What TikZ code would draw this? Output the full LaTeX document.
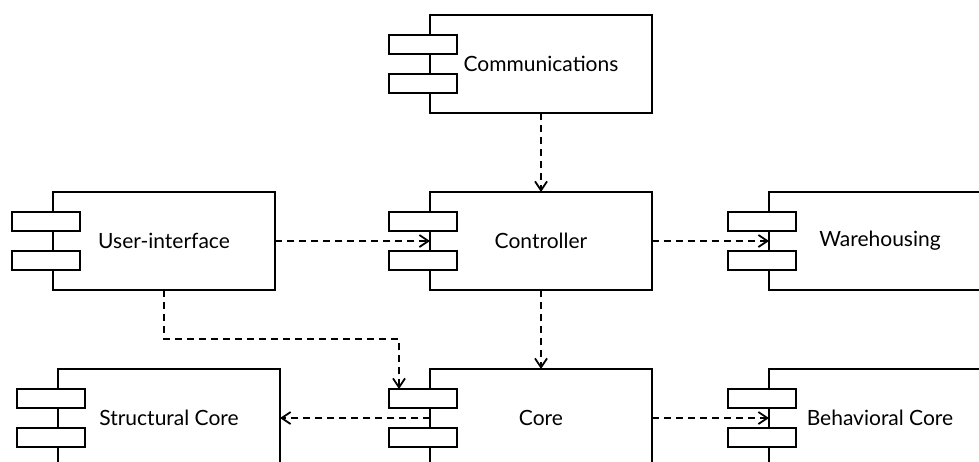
\documentclass[tikz,border=0pt]{standalone}
\usepackage{fontspec}
\setmainfont{Lato}
\usetikzlibrary{arrows.meta,calc}
\tikzset{
  comp/.style={draw, line width=2pt, minimum width=222pt, minimum height=98pt, inner sep=0pt, outer sep=0pt, font=\fontsize{21}{25}\selectfont},
  portbox/.style={draw, fill=white, line width=2pt},
  dep/.style={draw, line width=1.8pt, dash pattern=on 7pt off 5pt, -{Straight Barb[length=9pt,width=12pt,line width=1.8pt]}},
}
\newcommand{\ports}[1]{%
  \path[portbox] ($(#1.north west)+(-41,20)$) rectangle ++(68,19);
  \path[portbox] ($(#1.north west)+(-41,59)$) rectangle ++(68,19);
}
\begin{document}
\begin{tikzpicture}[x=1pt,y=-1pt]
\useasboundingbox (0,0) rectangle (979,461);
\clip (0,0) rectangle (979,461);
\node[comp] (comm) at (541,64) {Communications};
\node[comp] (ui) at (164,241) {User-interface};
\node[comp] (ctrl) at (541,241) {Controller};
\node[comp] (wh) at (880,241) {Warehousing};
\node[comp] (sc) at (169,418) {Structural Core};
\node[comp] (core) at (541,418) {Core};
\node[comp] (bc) at (880,418) {Behavioral Core};
\foreach \n in {comm,ui,ctrl,wh,sc,core,bc}{\ports{\n}}
\coordinate (coreport) at ($(core.north west)+(-31,20)$);
\coordinate (uibend) at (coreport |- 0,339);
\draw[dep] (comm.south) -- (ctrl.north);
\draw[dep] (ui.east) -- (ctrl.west);
\draw[dep] (ctrl.east) -- (wh.west);
\draw[dep] (ctrl.south) -- (core.north);
\draw[dep] (ui.south) |- (uibend) -- (coreport);
\draw[dep] (core.west) -- (sc.east);
\draw[dep] (core.east) -- (bc.west);
\end{tikzpicture}
\end{document}
